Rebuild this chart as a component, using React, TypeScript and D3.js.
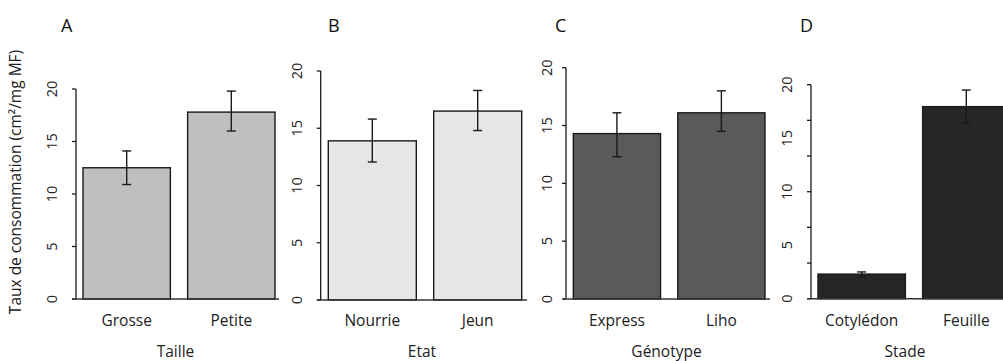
import * as d3 from "d3";

// panel A - Taille
const catsA = ["Grosse", "Petite"];
const valsA = [12.5, 17.8];
const loA = [10.9, 16.0];
const hiA = [14.1, 19.8];

// panel B - Etat
const catsB = ["Nourrie", "Jeun"];
const valsB = [13.9, 16.5];
const loB = [12.05, 14.8];
const hiB = [15.8, 18.3];

// panel C - Génotype
const catsC = ["Express", "Liho"];
const valsC = [14.3, 16.1];
const loC = [12.3, 14.5];
const hiC = [16.1, 18.0];

// panel D - Stade
const catsD = ["Cotylédon", "Feuille"];
const valsD = [2.3, 17.95];
const loD = [2.05, 16.4];
const hiD = [2.5, 19.5];

const tickLabels = [0, 5, 10, 15, 20];
const tickMarksD = [0, 3.33, 6.67, 10, 13.33, 16.67, 20];

const W = 1003;
const H = 361;
const FONT = "'Open Sans', 'DejaVu Sans', sans-serif";

interface PanelProps {
  letter: string;
  title: string;
  cats: string[];
  vals: number[];
  lo: number[];
  hi: number[];
  fill: string;
  axisX: number;
  y0: number;
  yTop: number;
  barStart: number;
  barEnd: number;
  lineStart: number;
  lineEnd: number;
  labelOff: number;
  letterX: number;
  marks?: number[];
}

function Panel(p: PanelProps) {
  const y = d3.scaleLinear().domain([0, 20]).range([p.y0, p.yTop]);
  const x = d3
    .scaleBand<string>()
    .domain(p.cats)
    .range([p.barStart, p.barEnd])
    .paddingInner(0.165)
    .paddingOuter(0);
  const marks = p.marks ?? tickLabels;
  const mid = (p.lineStart + p.lineEnd) / 2;
  return (
    <g>
      <text x={p.letterX} y={31.5} fontFamily={FONT} fontSize={18} fill="#111">
        {p.letter}
      </text>
      {p.cats.map((c, i) => (
        <rect
          key={c}
          x={x(c)}
          y={y(p.vals[i])}
          width={x.bandwidth()}
          height={p.y0 - y(p.vals[i])}
          fill={p.fill}
          stroke="#1a1a1a"
          strokeWidth={1.4}
        />
      ))}
      {p.cats.map((c, i) => {
        const cx = x(c)! + x.bandwidth() / 2;
        return (
          <g key={c} stroke="#1a1a1a" strokeWidth={1.4}>
            <line x1={cx} x2={cx} y1={y(p.hi[i])} y2={y(p.lo[i])} />
            <line x1={cx - 4.5} x2={cx + 4.5} y1={y(p.hi[i])} y2={y(p.hi[i])} />
            <line x1={cx - 4.5} x2={cx + 4.5} y1={y(p.lo[i])} y2={y(p.lo[i])} />
          </g>
        );
      })}
      <line x1={p.axisX} x2={p.axisX} y1={p.yTop} y2={p.y0} stroke="#1a1a1a" strokeWidth={1.3} />
      {marks.map((t) => (
        <line
          key={t}
          x1={p.axisX - 4}
          x2={p.axisX}
          y1={y(t)}
          y2={y(t)}
          stroke="#1a1a1a"
          strokeWidth={1.3}
        />
      ))}
      <line x1={p.lineStart} x2={p.lineEnd} y1={p.y0} y2={p.y0} stroke="#333" strokeWidth={1.4} />
      {tickLabels.map((t) => (
        <text
          key={t}
          transform={`translate(${p.axisX - p.labelOff + 5.2},${y(t)}) rotate(-90)`}
          textAnchor="middle"
          fontFamily={FONT}
          fontSize={14.5}
          fill="#222"
        >
          {t}
        </text>
      ))}
      {p.cats.map((c) => (
        <text
          key={c}
          x={x(c)! + x.bandwidth() / 2}
          y={326}
          textAnchor="middle"
          fontFamily={FONT}
          fontSize={15.5}
          fill="#222"
        >
          {c}
        </text>
      ))}
      <text x={mid} y={357} textAnchor="middle" fontFamily={FONT} fontSize={15.5} fill="#222">
        {p.title}
      </text>
    </g>
  );
}

export default function App() {
  return (
    <svg
      width={W}
      height={H}
      style={{ position: "absolute", left: 0, top: 0, background: "#fff" }}
    >
      <text
        transform={`translate(20.5,182) rotate(-90)`}
        textAnchor="middle"
        fontFamily={FONT}
        fontSize={15.5}
        fill="#222"
      >
        Taux de consommation (cm²/mg MF)
      </text>
      <Panel
        letter="A" title="Taille" cats={catsA} vals={valsA} lo={loA} hi={hiA}
        fill="#bfbfbf" axisX={76} y0={299} yTop={89} barStart={83} barEnd={275}
        lineStart={72} lineEnd={279} labelOff={24} letterX={61}
      />
      <Panel
        letter="B" title="Etat" cats={catsB} vals={valsB} lo={loB} hi={hiB}
        fill="#e6e6e6" axisX={320.7} y0={300} yTop={71} barStart={328.3} barEnd={521.7}
        lineStart={317} lineEnd={527} labelOff={24} letterX={328}
      />
      <Panel
        letter="C" title="Génotype" cats={catsC} vals={valsC} lo={loC} hi={hiC}
        fill="#5a5a5a" axisX={566} y0={299} yTop={67.7} barStart={573.3} barEnd={765}
        lineStart={563} lineEnd={770} labelOff={19.5} letterX={555}
      />
      <Panel
        letter="D" title="Stade" cats={catsD} vals={valsD} lo={loD} hi={hiD}
        fill="#262626" axisX={811} y0={298.7} yTop={84.7} barStart={818} barEnd={1010}
        lineStart={807} lineEnd={1003} labelOff={24} letterX={800} marks={tickMarksD}
      />
    </svg>
  );
}
